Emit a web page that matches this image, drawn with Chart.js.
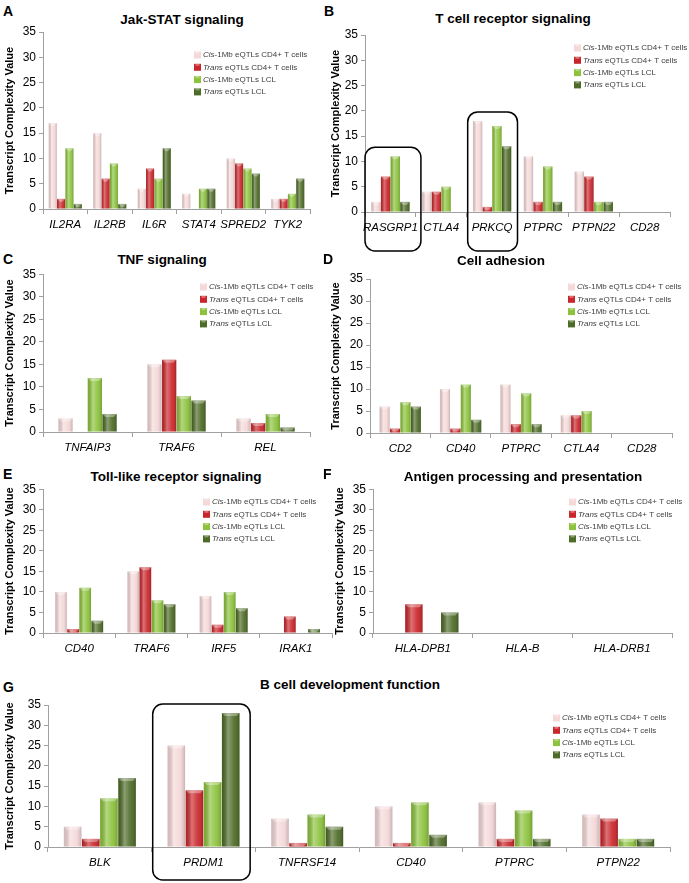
<!DOCTYPE html>
<html>
<head>
<meta charset="utf-8">
<script src="https://cdn.jsdelivr.net/npm/chart.js@4.4.0/dist/chart.umd.min.js"></script>
<style>
    body { margin: 0; background: #fff; width: 689px; height: 883px; position: relative; overflow: hidden; font-family: 'Liberation Sans', Arial, sans-serif; }
    canvas { position: absolute; }
    .letter { position: absolute; font-weight: bold; font-size: 14px; line-height: 14px; }
    .title { position: absolute; font-weight: bold; font-size: 13.5px; line-height: 14px; white-space: nowrap; transform: translateX(-50%); }
</style>
</head>
<body>
<script>
// series shared by every panel
const seriesPrefix = ['Cis', 'Trans', 'Cis', 'Trans'];
const seriesSuffix = ['-1Mb eQTLs CD4+ T cells', ' eQTLs CD4+ T cells', '-1Mb eQTLs LCL', ' eQTLs LCL'];
const seriesColors = ['#f5d8d8', '#c9262b', '#8cc23c', '#4d6a26'];
const yTicks = [0, 5, 10, 15, 20, 25, 30, 35];

// A - Jak-STAT signaling
const jakGenes = ['IL2RA', 'IL2RB', 'IL6R', 'STAT4', 'SPRED2', 'TYK2'];
const jakCisCD4 = [17, 15, 4, 3, 10, 2];
const jakTransCD4 = [2, 6, 8, 0, 9, 2];
const jakCisLCL = [12, 9, 6, 4, 8, 3];
const jakTransLCL = [1, 1, 12, 4, 7, 6];

// B - T cell receptor signaling
const tcrGenes = ['RASGRP1', 'CTLA4', 'PRKCQ', 'PTPRC', 'PTPN22', 'CD28'];
const tcrCisCD4 = [2, 4, 18, 11, 8, 0];
const tcrTransCD4 = [7, 4, 1, 2, 7, 0];
const tcrCisLCL = [11, 5, 17, 9, 2, 0];
const tcrTransLCL = [2, 0, 13, 2, 2, 0];

// C - TNF signaling
const tnfGenes = ['TNFAIP3', 'TRAF6', 'REL'];
const tnfCisCD4 = [3, 15, 3];
const tnfTransCD4 = [0, 16, 2];
const tnfCisLCL = [12, 8, 4];
const tnfTransLCL = [4, 7, 1];

// D - Cell adhesion
const adhGenes = ['CD2', 'CD40', 'PTPRC', 'CTLA4', 'CD28'];
const adhCisCD4 = [6, 10, 11, 4, 0];
const adhTransCD4 = [1, 1, 2, 4, 0];
const adhCisLCL = [7, 11, 9, 5, 0];
const adhTransLCL = [6, 3, 2, 0, 0];

// E - Toll-like receptor signaling
const tlrGenes = ['CD40', 'TRAF6', 'IRF5', 'IRAK1'];
const tlrCisCD4 = [10, 15, 9, 0];
const tlrTransCD4 = [1, 16, 2, 4];
const tlrCisLCL = [11, 8, 10, 0];
const tlrTransLCL = [3, 7, 6, 1];

// F - Antigen processing and presentation
const hlaGenes = ['HLA-DPB1', 'HLA-B', 'HLA-DRB1'];
const hlaCisCD4 = [0, 0, 0];
const hlaTransCD4 = [7, 0, 0];
const hlaCisLCL = [0, 0, 0];
const hlaTransLCL = [5, 0, 0];

// G - B cell development function
const bcellGenes = ['BLK', 'PRDM1', 'TNFRSF14', 'CD40', 'PTPRC', 'PTPN22'];
const bcellCisCD4 = [5, 25, 7, 10, 11, 8];
const bcellTransCD4 = [2, 14, 1, 1, 2, 7];
const bcellCisLCL = [12, 16, 8, 11, 9, 2];
const bcellTransLCL = [17, 33, 5, 3, 2, 2];

const FONT = "'Liberation Sans', Arial, sans-serif";

// cv = canvas x,y,w,h ; area = chart area left,right,top,bottom (page px)
const panels = [
    { letter: 'A', lpos: [3, 4], title: 'Jak-STAT signaling', tpos: [182, 13],
      labels: jakGenes, values: [jakCisCD4, jakTransCD4, jakCisLCL, jakTransLCL],
      cv: [0, 20, 340, 220], area: [43, 310, 32, 209], yTitleX: 10, cat: 0.75,
      legend: [194, 55] },
    { letter: 'B', lpos: [324, 4], title: 'T cell receptor signaling', tpos: [513, 12],
      labels: tcrGenes, values: [tcrCisCD4, tcrTransCD4, tcrCisLCL, tcrTransLCL],
      cv: [327, 20, 362, 244], area: [365, 670, 35, 212], yTitleX: 336, cat: 0.76,
      legend: [574, 48],
      boxes: [{ i: 0, l: 0.5, r: 0.6, bottom: 251 }, { i: 2, l: 0.48, r: 0.5, bottom: 251 }] },
    { letter: 'C', lpos: [3, 252], title: 'TNF signaling', tpos: [162, 253],
      labels: tnfGenes, values: [tnfCisCD4, tnfTransCD4, tnfCisLCL, tnfTransLCL],
      cv: [0, 264, 340, 196], area: [43, 310, 272, 432], yTitleX: 10, cat: 0.66,
      legend: [200, 287] },
    { letter: 'D', lpos: [323, 252], title: 'Cell adhesion', tpos: [501, 254],
      labels: adhGenes, values: [adhCisCD4, adhTransCD4, adhCisLCL, adhTransLCL],
      cv: [327, 264, 362, 196], area: [370, 672, 279, 433], yTitleX: 336, cat: 0.69,
      legend: [568, 287] },
    { letter: 'E', lpos: [3, 467], title: 'Toll-like receptor signaling', tpos: [176, 470],
      labels: tlrGenes, values: [tlrCisCD4, tlrTransCD4, tlrCisLCL, tlrTransLCL],
      cv: [0, 479, 340, 181], area: [43, 332, 487, 633], yTitleX: 10, cat: 0.67,
      legend: [203, 502] },
    { letter: 'F', lpos: [323, 467], title: 'Antigen processing and presentation', tpos: [523, 470],
      labels: hlaGenes, values: [hlaCisCD4, hlaTransCD4, hlaCisLCL, hlaTransLCL],
      cv: [327, 479, 362, 181], area: [373, 672, 488, 633], yTitleX: 340, cat: 0.72,
      legend: [569, 502] },
    { letter: 'G', lpos: [3, 680], title: 'B cell development function', tpos: [350, 678],
      labels: bcellGenes, values: [bcellCisCD4, bcellTransCD4, bcellCisLCL, bcellTransLCL],
      cv: [0, 694, 689, 189], area: [48, 670, 705, 847], yTitleX: 10, cat: 0.7,
      legend: [553, 718],
      boxes: [{ i: 1, l: 0.49, r: 0.45, bottom: 880 }] }
];

// glossy 3D-ish look on each bar
const barShade = {
    id: 'barShade',
    afterDatasetsDraw(chart) {
        const ctx = chart.ctx;
        chart.data.datasets.forEach((ds, di) => {
            chart.getDatasetMeta(di).data.forEach(bar => {
                const h = bar.base - bar.y;
                if (h < 0.5) return;
                const x0 = bar.x - bar.width / 2;
                const g = ctx.createLinearGradient(x0, 0, x0 + bar.width, 0);
                g.addColorStop(0, 'rgba(0,0,0,0.12)');
                g.addColorStop(0.35, 'rgba(255,255,255,0.35)');
                g.addColorStop(0.7, 'rgba(255,255,255,0.08)');
                g.addColorStop(1, 'rgba(0,0,0,0.18)');
                ctx.save();
                ctx.fillStyle = g;
                ctx.fillRect(x0, bar.y, bar.width, h);
                let b = Math.min(3, h);
                ctx.fillStyle = 'rgba(255,255,255,0.35)';
                ctx.beginPath();
                ctx.moveTo(x0, bar.y);
                ctx.lineTo(x0 + bar.width, bar.y);
                ctx.lineTo(x0 + bar.width - b, bar.y + b);
                ctx.lineTo(x0 + b, bar.y + b);
                ctx.closePath();
                ctx.fill();
                ctx.restore();
            });
        });
    }
};

const legendBox = {
    id: 'legendBox',
    afterDraw(chart, args, opts) {
        const ctx = chart.ctx;
        const ox = opts.x, oy = opts.y;
        ctx.save();
        ctx.textBaseline = 'middle';
        for (let i = 0; i < chart.data.datasets.length; i++) {
            const y = oy + i * 12.3;
            ctx.fillStyle = seriesColors[i];
            ctx.fillRect(ox, y - 3.5, 7, 7);
            ctx.fillStyle = 'rgba(255,255,255,0.35)';
            ctx.fillRect(ox + 1.5, y - 3.5, 4, 2);
            ctx.fillStyle = '#404040';
            ctx.font = 'italic 8px ' + FONT;
            ctx.fillText(seriesPrefix[i], ox + 9, y);
            const w = ctx.measureText(seriesPrefix[i]).width;
            ctx.font = '8px ' + FONT;
            ctx.fillText(seriesSuffix[i], ox + 9 + w, y);
        }
        ctx.restore();
    }
};

const groupBox = {
    id: 'groupBox',
    afterDraw(chart, args, opts) {
        if (!opts.boxes) return;
        const ctx = chart.ctx;
        const xs = chart.scales.x, ys = chart.scales.y;
        const cw = xs.width / chart.data.labels.length;
        opts.boxes.forEach(bx => {
            const c = xs.getPixelForValue(bx.i);
            const top = Math.max(...chart.data.datasets.map(d => d.data[bx.i]));
            const y0 = ys.getPixelForValue(top) - 9;
            const y1 = bx.bottom - opts.top;
            ctx.save();
            ctx.strokeStyle = '#000';
            ctx.lineWidth = 1.5;
            ctx.beginPath();
            ctx.roundRect(c - cw * bx.l, y0, cw * (bx.l + bx.r), y1 - y0, 10);
            ctx.stroke();
            ctx.restore();
        });
    }
};

function addText(cls, txt, x, y) {
    const d = document.createElement('div');
    d.className = cls;
    d.textContent = txt;
    d.style.left = x + 'px';
    d.style.top = y + 'px';
    document.body.appendChild(d);
}

function makePanel(p) {
    addText('letter', p.letter, p.lpos[0], p.lpos[1]);
    addText('title', p.title, p.tpos[0], p.tpos[1]);

    const [cx, cy, cw, ch] = p.cv;
    const [al, ar, at, ab] = p.area;
    const cv = document.createElement('canvas');
    cv.width = cw; cv.height = ch;
    cv.style.left = cx + 'px'; cv.style.top = cy + 'px';
    cv.style.width = cw + 'px'; cv.style.height = ch + 'px';
    document.body.appendChild(cv);

    new Chart(cv, {
        type: 'bar',
        data: {
            labels: p.labels,
            datasets: p.values.map((v, i) => ({
                label: seriesPrefix[i] + seriesSuffix[i],
                data: v,
                backgroundColor: seriesColors[i],
                borderWidth: 0,
                categoryPercentage: p.cat,
                barPercentage: 0.97
            }))
        },
        options: {
            responsive: false,
            animation: false,
            layout: { padding: { left: 0, top: at - cy, right: cx + cw - ar, bottom: 0 } },
            plugins: {
                legend: { display: false },
                tooltip: { enabled: false },
                legendBox: { x: p.legend[0] - cx, y: p.legend[1] - cy },
                groupBox: { boxes: p.boxes, top: cy }
            },
            scales: {
                x: {
                    grid: { drawOnChartArea: false, tickLength: 5, color: '#a0a0a0' },
                    border: { color: '#a0a0a0' },
                    ticks: { color: '#000', padding: 4, maxRotation: 0, minRotation: 0, autoSkip: false,
                             font: { family: FONT, size: 11.5, style: 'italic' } },
                    afterFit: s => { s.height = cy + ch - ab; }
                },
                y: {
                    min: 0, max: 35,
                    afterBuildTicks: s => { s.ticks = yTicks.map(v => ({ value: v })); },
                    grid: { drawOnChartArea: false, tickLength: 4, color: '#a0a0a0' },
                    border: { color: '#a0a0a0' },
                    ticks: { color: '#000', padding: 3, font: { family: FONT, size: 12 } },
                    title: {
                        display: true, text: 'Transcript Complexity Value', color: '#000',
                        font: { family: FONT, size: 11, weight: 'bold', lineHeight: 1.2 },
                        padding: { top: p.yTitleX - cx - 6.6, bottom: 0 }
                    },
                    afterFit: s => { s.width = al - cx; }
                }
            }
        },
        plugins: [barShade, legendBox, groupBox]
    });
}

panels.forEach(makePanel);
</script>
</body>
</html>
